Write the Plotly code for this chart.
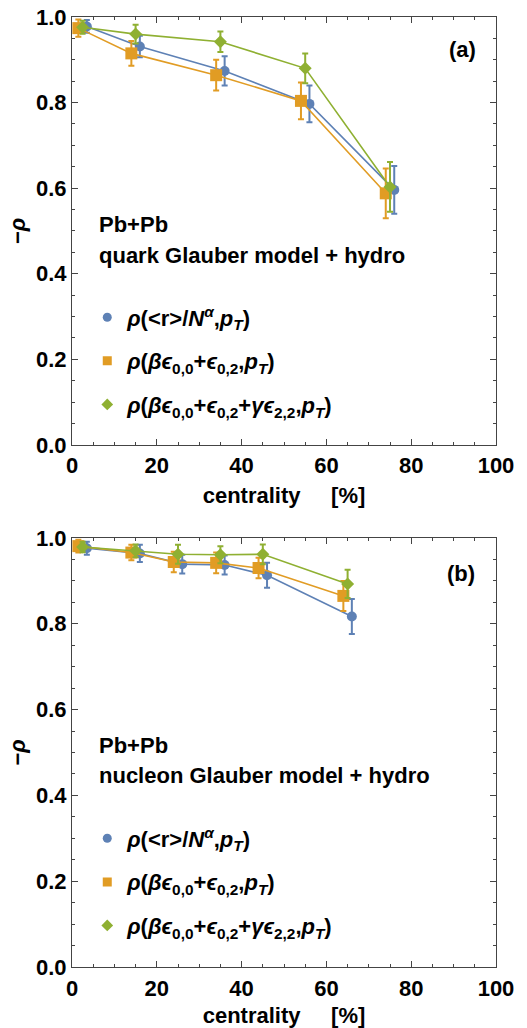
import plotly.graph_objects as go

# ---------------- data ----------------
# panel (a): quark Glauber model + hydro
a_blue_x = [3.5, 16, 36, 56, 76]
a_blue_y = [0.978, 0.931, 0.874, 0.797, 0.596]
a_blue_e = [0.015, 0.025, 0.034, 0.043, 0.056]

a_orange_x = [1.5, 14, 34, 54, 74]
a_orange_y = [0.974, 0.915, 0.864, 0.804, 0.588]
a_orange_e = [0.020, 0.029, 0.036, 0.043, 0.058]

a_green_x = [2.5, 15, 35, 55, 75]
a_green_y = [0.976, 0.960, 0.942, 0.880, 0.603]
a_green_e = [0.015, 0.022, 0.024, 0.035, 0.058]

# panel (b): nucleon Glauber model + hydro
b_blue_x = [3.5, 16, 26, 36, 46, 66]
b_blue_y = [0.976, 0.964, 0.939, 0.937, 0.913, 0.817]
b_blue_e = [0.015, 0.020, 0.022, 0.022, 0.029, 0.041]

b_orange_x = [1.5, 14, 24, 34, 44, 64]
b_orange_y = [0.981, 0.966, 0.944, 0.942, 0.930, 0.865]
b_orange_e = [0.015, 0.018, 0.024, 0.024, 0.024, 0.035]

b_green_x = [2.5, 15, 25, 35, 45, 65]
b_green_y = [0.979, 0.970, 0.962, 0.961, 0.962, 0.893]
b_green_e = [0.012, 0.015, 0.022, 0.020, 0.023, 0.033]

series_names = [
    "<i>ρ</i>(&lt;r&gt;/<i>N</i><sup><i>α</i></sup>,<i>p</i><sub><i>T</i></sub>)",
    "<i>ρ</i>(<i>βϵ</i><sub>0,0</sub>+<i>ϵ</i><sub>0,2</sub>,<i>p</i><sub><i>T</i></sub>)",
    "<i>ρ</i>(<i>βϵ</i><sub>0,0</sub>+<i>ϵ</i><sub>0,2</sub>+<i>γϵ</i><sub>2,2</sub>,<i>p</i><sub><i>T</i></sub>)",
]
panel_labels = ["(a)", "(b)"]
system_label = "Pb+Pb"
model_labels = ["quark Glauber model + hydro", "nucleon Glauber model + hydro"]
x_title = "centrality\u00a0\u00a0\u00a0\u00a0\u00a0[%]"
y_title = "−<i>ρ</i>"
x_ticks = [0, 20, 40, 60, 80, 100]
y_ticks = [0.0, 0.2, 0.4, 0.6, 0.8, 1.0]

# ---------------- style ----------------
colors = ["#5E81B5", "#E19C24", "#8FB032"]
symbols = ["circle", "square", "diamond"]
sizes = [10, 12, 10]
FONT = "Liberation Sans, Arial, sans-serif"
AX = "#444444"
FS = 22

fig = go.Figure()

panels = [
    [(a_blue_x, a_blue_y, a_blue_e), (a_orange_x, a_orange_y, a_orange_e), (a_green_x, a_green_y, a_green_e)],
    [(b_blue_x, b_blue_y, b_blue_e), (b_orange_x, b_orange_y, b_orange_e), (b_green_x, b_green_y, b_green_e)],
]

for p, series in enumerate(panels):
    xa = "x" if p == 0 else "x2"
    ya = "y" if p == 0 else "y2"
    lg = "legend" if p == 0 else "legend2"
    for k, (xs, ys, es) in enumerate(series):
        fig.add_trace(go.Scatter(
            x=xs, y=ys, xaxis=xa, yaxis=ya, mode="lines+markers",
            line=dict(color=colors[k], width=1.6),
            marker=dict(symbol=symbols[k], size=sizes[k], color=colors[k], line=dict(width=0)),
            error_y=dict(type="data", array=es, visible=True, color=colors[k], thickness=2, width=3),
            showlegend=False, cliponaxis=False,
        ))
    for k in range(3):
        fig.add_trace(go.Scatter(
            x=[None], y=[None], xaxis=xa, yaxis=ya, mode="markers",
            marker=dict(symbol=symbols[k], size=9, color=colors[k]),
            name=series_names[k], legend=lg, legendgroup=f"{p}-{k}", showlegend=True,
        ))

dom_a = [0.5495, 1.0]
dom_b = [0.0, 0.4516]

def xaxis(anchor):
    return dict(
        range=[0, 100], tickvals=x_ticks, ticks="inside", ticklen=6, tickwidth=1, tickcolor=AX,
        minor=dict(dtick=5, tick0=0, ticks="inside", ticklen=3, tickcolor=AX, tickwidth=1),
        showline=True, linecolor=AX, linewidth=1.2, mirror="ticks", showgrid=False, zeroline=False,
        tickfont=dict(size=FS, family=FONT, color="black", weight="bold"),
        title=dict(text=x_title, font=dict(size=FS, family=FONT, color="black", weight="bold"), standoff=10),
        anchor=anchor, ticklabelstandoff=1,
    )

def yaxis(anchor, dom):
    return dict(
        range=[0, 1], tickvals=y_ticks, tickformat=".1f", ticks="inside", ticklen=6, tickwidth=1, tickcolor=AX,
        minor=dict(dtick=0.05, tick0=0, ticks="inside", ticklen=3, tickcolor=AX, tickwidth=1),
        showline=True, linecolor=AX, linewidth=1.2, mirror="ticks", showgrid=False, zeroline=False,
        tickfont=dict(size=FS, family=FONT, color="black", weight="bold"),
        title=dict(text=y_title, font=dict(size=FS, family=FONT, color="black", weight="bold"), standoff=4),
        anchor=anchor, domain=dom, ticklabelstandoff=0,
    )

legend_style = dict(
    font=dict(size=FS, family=FONT, color="black", weight="bold"),
    bgcolor="rgba(0,0,0,0)", borderwidth=0, traceorder="grouped", tracegroupgap=12,
    itemwidth=30, xanchor="left", yanchor="middle", itemclick=False,
)

annotations = []
label_pos = [(0.92, 0.923, 0.514, 0.4416), (0.918, 0.918, 0.517, 0.4475)]
for p, (lx, ly, sy, my) in enumerate(label_pos):
    ya = "y domain" if p == 0 else "y2 domain"
    xa = "x domain" if p == 0 else "x2 domain"
    tf = dict(size=FS, family=FONT, color="black", weight="bold")
    annotations.append(dict(text=panel_labels[p], xref=xa, yref=ya, x=lx, y=ly,
                            showarrow=False, xanchor="center", yanchor="middle", font=tf))
    annotations.append(dict(text=system_label, xref=xa, yref=ya, x=0.06, y=sy,
                            showarrow=False, xanchor="left", yanchor="middle", font=tf))
    annotations.append(dict(text=model_labels[p], xref=xa, yref=ya, x=0.06, y=my,
                            showarrow=False, xanchor="left", yanchor="middle", font=tf))

fig.update_layout(
    width=527, height=1028,
    margin=dict(l=72, r=31, t=17, b=61, autoexpand=False),
    paper_bgcolor="white", plot_bgcolor="white",
    font=dict(family=FONT, color="black"),
    xaxis=xaxis("y"), yaxis=yaxis("x", dom_a),
    xaxis2=xaxis("y2"), yaxis2=yaxis("x2", dom_b),
    legend=dict(x=0.036, y=0.638, **legend_style),
    legend2=dict(x=0.036, y=0.0895, **legend_style),
    annotations=annotations,
)

fig.write_html("out.html")
